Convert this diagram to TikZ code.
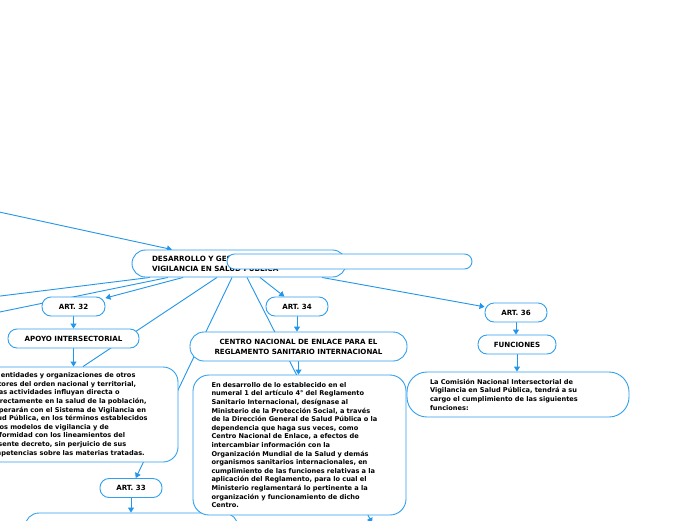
\documentclass[tikz,border=0pt]{standalone}
\usepackage{fontspec}
\setmainfont{DejaVu Sans}
\usetikzlibrary{arrows.meta,backgrounds}
\definecolor{lineblue}{RGB}{33,150,235}
\definecolor{boxblue}{RGB}{48,160,238}
\tikzset{
  box/.style={draw=boxblue,line width=0.9pt,fill=white,inner sep=0pt,align=center,
    font=\fontsize{7.1}{10}\selectfont\bfseries},
  pill/.style={box,rounded corners=9pt,minimum height=19pt},
  textbox/.style={draw=boxblue,line width=0.9pt,fill=white,inner sep=0pt,align=left,
    font=\fontsize{6.6}{8.6}\selectfont\bfseries},
  conn/.style={draw=lineblue,line width=0.9pt},
  arr/.style={conn,-{Triangle[length=5pt,width=6pt]}},
}
\begin{document}
\begin{tikzpicture}[x=1pt,y=-1pt]
\useasboundingbox (0,0) rectangle (696,520);
% main node
\node[box,rounded corners=13.5pt,minimum width=214pt,minimum height=27pt,text width=174pt,align=left,
  font=\fontsize{7.2}{10}\selectfont\bfseries] (main) at (239,263.5)
  {DESARROLLO Y GESTIÓN DEL SISTEMA DE\\VIGILANCIA EN SALUD PÚBLICA};
\node[draw=boxblue,line width=0.9pt,fill=white,rounded corners=7.5pt,minimum width=245pt,
  minimum height=15pt,inner sep=0pt] (blank) at (349.5,261.5) {};
% left branch
\node[pill,minimum width=63pt] (art32) at (73.5,306.5) {ART. 32};
\node[pill,minimum width=131pt] (apoyo) at (73.5,338.5) {APOYO INTERSECTORIAL};
\node[textbox,rounded corners=15pt,minimum width=200pt,minimum height=95pt,text width=184pt] (bigleft) at (78,414.5)
  {Las entidades y organizaciones de otros\\
   sectores del orden nacional y territorial,\\
   cuyas actividades influyan directa o\\
   indirectamente en la salud de la población,\\
   cooperarán con el Sistema de Vigilancia en\\
   Salud Pública, en los términos establecidos\\
   en los modelos de vigilancia y de\\
   conformidad con los lineamientos del\\
   presente decreto, sin perjuicio de sus\\
   competencias sobre las materias tratadas.};
\node[pill,minimum width=62pt] (art33) at (131,488) {ART. 33};
\node[box,rounded corners=14pt,minimum width=213pt,minimum height=40pt] (art33body) at (131.5,533) {};
% middle branch
\node[pill,minimum width=62pt] (art34) at (297,306.5) {ART. 34};
\node[box,rounded corners=14pt,minimum width=217pt,minimum height=29pt] (centro) at (298.5,346.5)
  {CENTRO NACIONAL DE ENLACE PARA EL\\REGLAMENTO SANITARIO INTERNACIONAL};
\node[textbox,rounded corners=16pt,minimum width=213pt,minimum height=140pt,text width=176pt] (centrotext) at (299.5,445)
  {En desarrollo de lo establecido en el\\
   numeral 1 del artículo 4° del Reglamento\\
   Sanitario Internacional, desígnase al\\
   Ministerio de la Protección Social, a través\\
   de la Dirección General de Salud Pública o la\\
   dependencia que haga sus veces, como\\
   Centro Nacional de Enlace, a efectos de\\
   intercambiar información con la\\
   Organización Mundial de la Salud y demás\\
   organismos sanitarios internacionales, en\\
   cumplimiento de las funciones relativas a la\\
   aplicación del Reglamento, para lo cual el\\
   Ministerio reglamentará lo pertinente a la\\
   organización y funcionamiento de dicho\\
   Centro.};
% right branch
\node[pill,minimum width=62pt] (art36) at (516,312.5) {ART. 36};
\node[pill,minimum width=78pt] (funciones) at (517,344.5) {FUNCIONES};
\node[textbox,rounded corners=20pt,minimum width=222pt,minimum height=45pt,text width=176pt] (righttext) at (518,394.5)
  {La Comisión Nacional Intersectorial de\\
   Vigilancia en Salud Pública, tendrá a su\\
   cargo el cumplimiento de las siguientes\\
   funciones:};
% free ends
\coordinate (srcA) at (-10,210);
\coordinate (offL1) at (-10,297.3);
\coordinate (offL2) at (-10,314);
\coordinate (offB) at (372,523);
\begin{scope}[on background layer]
\fill[white] (0,0) rectangle (696,520);
\draw[arr] (srcA) -- ([xshift=-67pt]main.north);
\draw[conn] ([xshift=-89pt]main.south) -- (offL1);
\draw[conn] ([xshift=-71pt]main.south) -- (offL2);
\draw[arr] ([xshift=-56pt]main.south) -- (art32);
\draw[conn] ([xshift=-22pt]main.south) -- ([xshift=5pt]bigleft.north);
\draw[arr] ([xshift=-7pt]main.south) -- (art33);
\draw[arr] ([xshift=8pt]main.south) -- (offB);
\draw[arr] ([xshift=21pt]main.south) -- (art34);
\draw[arr] ([xshift=83pt]main.south) -- (art36);
\draw[arr] (art32.south) -- (art32.south |- apoyo.north);
\draw[arr] (apoyo.south) -- (apoyo.south |- bigleft.north);
\draw[arr] (art33.south) -- (art33.south |- art33body.north);
\draw[arr] (art34.south) -- (art34.south |- centro.north);
\draw[arr] (centro.south) -- (centro.south |- centrotext.north);
\draw[arr] (art36.south) -- (art36.south |- funciones.north);
\draw[arr] (funciones.south) -- (funciones.south |- righttext.north);
\end{scope}
\end{tikzpicture}
\end{document}
